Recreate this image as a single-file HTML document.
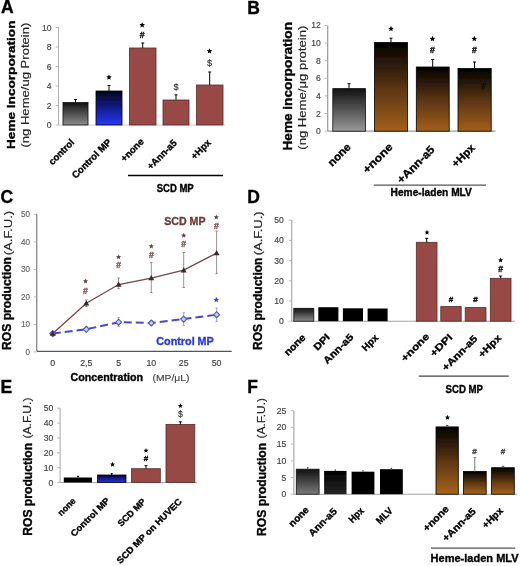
<!DOCTYPE html>
<html><head><meta charset="utf-8"><style>html,body{margin:0;padding:0;background:#fff;}svg{display:block;will-change:transform;}</style></head>
<body><svg width="520" height="566" viewBox="0 0 520 566" font-family='"Liberation Sans", sans-serif'>
<defs><linearGradient id="g1" x1="0" y1="0" x2="0" y2="1"><stop offset="0" stop-color="#141414"/><stop offset="1" stop-color="#8c8c8c"/></linearGradient><linearGradient id="g2" x1="0" y1="0" x2="0" y2="1"><stop offset="0" stop-color="#02041c"/><stop offset="0.5" stop-color="#121c8c"/><stop offset="1" stop-color="#2638f6"/></linearGradient><linearGradient id="g3" x1="0" y1="0" x2="0" y2="1"><stop offset="0" stop-color="#111111"/><stop offset="1" stop-color="#999999"/></linearGradient><linearGradient id="g4" x1="0" y1="0" x2="0" y2="1"><stop offset="0" stop-color="#000000"/><stop offset="0.5" stop-color="#583412"/><stop offset="1" stop-color="#a45f1c"/></linearGradient><linearGradient id="g5" x1="0" y1="0" x2="0" y2="1"><stop offset="0" stop-color="#111111"/><stop offset="1" stop-color="#8a8a8a"/></linearGradient><linearGradient id="g6" x1="0" y1="0" x2="0" y2="1"><stop offset="0" stop-color="#05082e"/><stop offset="1" stop-color="#2434f2"/></linearGradient><linearGradient id="g7" x1="0" y1="0" x2="0" y2="1"><stop offset="0" stop-color="#111111"/><stop offset="1" stop-color="#7a7a7a"/></linearGradient><linearGradient id="g8" x1="0" y1="0" x2="0" y2="1"><stop offset="0" stop-color="#000000"/><stop offset="1" stop-color="#262626"/></linearGradient><linearGradient id="g9" x1="0" y1="0" x2="0" y2="1"><stop offset="0" stop-color="#000000"/><stop offset="0.5" stop-color="#5a3612"/><stop offset="1" stop-color="#a8641a"/></linearGradient><filter id="blur" x="-5%" y="-5%" width="110%" height="110%"><feGaussianBlur stdDeviation="0.35"/></filter></defs>
<rect width="520" height="566" fill="#fff"/>
<g filter="url(#blur)">
<text x="1.00" y="13.40" font-size="17.5" font-weight="bold" fill="#000" text-anchor="start" stroke="#000" stroke-width="0.35">A</text>
<line x1="58.50" y1="27.00" x2="58.50" y2="125.00" stroke="#b0b0b0" stroke-width="1"/>
<line x1="58.50" y1="125.00" x2="225.00" y2="125.00" stroke="#cccccc" stroke-width="1"/>
<text x="51.50" y="128.01" font-size="8.6" font-weight="normal" fill="#404040" text-anchor="end" stroke="#404040" stroke-width="0.15">0</text>
<line x1="55.50" y1="125.00" x2="58.50" y2="125.00" stroke="#aaa" stroke-width="0.8"/>
<text x="51.50" y="108.51" font-size="8.6" font-weight="normal" fill="#404040" text-anchor="end" stroke="#404040" stroke-width="0.15">2</text>
<line x1="55.50" y1="105.50" x2="58.50" y2="105.50" stroke="#aaa" stroke-width="0.8"/>
<text x="51.50" y="89.01" font-size="8.6" font-weight="normal" fill="#404040" text-anchor="end" stroke="#404040" stroke-width="0.15">4</text>
<line x1="55.50" y1="86.00" x2="58.50" y2="86.00" stroke="#aaa" stroke-width="0.8"/>
<text x="51.50" y="69.51" font-size="8.6" font-weight="normal" fill="#404040" text-anchor="end" stroke="#404040" stroke-width="0.15">6</text>
<line x1="55.50" y1="66.50" x2="58.50" y2="66.50" stroke="#aaa" stroke-width="0.8"/>
<text x="51.50" y="50.01" font-size="8.6" font-weight="normal" fill="#404040" text-anchor="end" stroke="#404040" stroke-width="0.15">8</text>
<line x1="55.50" y1="47.00" x2="58.50" y2="47.00" stroke="#aaa" stroke-width="0.8"/>
<text x="51.50" y="30.51" font-size="8.6" font-weight="normal" fill="#404040" text-anchor="end" stroke="#404040" stroke-width="0.15">10</text>
<line x1="55.50" y1="27.50" x2="58.50" y2="27.50" stroke="#aaa" stroke-width="0.8"/>
<rect x="63.00" y="102.50" width="25.00" height="22.50" fill="url(#g1)" stroke="#111" stroke-width="0.8"/>
<rect x="96.00" y="91.00" width="26.00" height="34.00" fill="url(#g2)" stroke="#000" stroke-width="0.8"/>
<rect x="129.50" y="48.00" width="26.50" height="77.00" fill="#974a45" stroke="#5a2a28" stroke-width="0.8"/>
<rect x="163.00" y="100.00" width="26.00" height="25.00" fill="#974a45" stroke="#5a2a28" stroke-width="0.8"/>
<rect x="196.50" y="85.00" width="26.50" height="40.00" fill="#974a45" stroke="#5a2a28" stroke-width="0.8"/>
<line x1="75.50" y1="99.50" x2="75.50" y2="102.50" stroke="#000" stroke-width="1"/>
<line x1="74.00" y1="99.50" x2="77.00" y2="99.50" stroke="#000" stroke-width="1"/>
<line x1="109.00" y1="85.50" x2="109.00" y2="91.00" stroke="#000" stroke-width="1"/>
<line x1="107.50" y1="85.50" x2="110.50" y2="85.50" stroke="#000" stroke-width="1"/>
<line x1="142.70" y1="43.00" x2="142.70" y2="48.00" stroke="#000" stroke-width="1"/>
<line x1="141.20" y1="43.00" x2="144.20" y2="43.00" stroke="#000" stroke-width="1"/>
<line x1="176.00" y1="94.80" x2="176.00" y2="100.00" stroke="#000" stroke-width="1"/>
<line x1="174.50" y1="94.80" x2="177.50" y2="94.80" stroke="#000" stroke-width="1"/>
<line x1="209.70" y1="72.00" x2="209.70" y2="85.00" stroke="#000" stroke-width="1"/>
<line x1="208.20" y1="72.00" x2="211.20" y2="72.00" stroke="#000" stroke-width="1"/>
<polygon points="109.00,74.31 109.79,76.21 111.84,76.38 110.28,77.72 110.76,79.72 109.00,78.65 107.24,79.72 107.72,77.72 106.16,76.38 108.21,76.21" fill="#000"/>
<polygon points="142.20,22.21 142.99,24.11 145.04,24.28 143.48,25.62 143.96,27.62 142.20,26.55 140.44,27.62 140.92,25.62 139.36,24.28 141.41,24.11" fill="#000"/>
<text x="142.20" y="38.10" font-size="8.625" font-weight="bold" fill="#000" text-anchor="middle" stroke="#000" stroke-width="0.35">#</text>
<text x="176.00" y="90.31" font-size="9.2" font-weight="normal" fill="#333" text-anchor="middle" stroke="#333" stroke-width="0.15">$</text>
<polygon points="209.50,48.21 210.29,50.11 212.34,50.28 210.78,51.62 211.26,53.62 209.50,52.55 207.74,53.62 208.22,51.62 206.66,50.28 208.71,50.11" fill="#000"/>
<text x="209.50" y="65.61" font-size="9.2" font-weight="normal" fill="#333" text-anchor="middle" stroke="#333" stroke-width="0.15">$</text>
<text x="15.00" y="149.00" font-size="11.7" font-weight="bold" fill="#000" text-anchor="start" transform="rotate(-90 15.00 149.00)" textLength="128.50" lengthAdjust="spacingAndGlyphs" stroke="#000" stroke-width="0.35">Heme Incorporation</text>
<text x="28.80" y="147.60" font-size="11.3" font-weight="normal" fill="#222" text-anchor="start" transform="rotate(-90 28.80 147.60)" textLength="125.00" lengthAdjust="spacingAndGlyphs" stroke="#222" stroke-width="0.15">(ng Heme/ug Protein)</text>
<text x="74.88" y="143.01" font-size="9.6" font-weight="bold" fill="#000" text-anchor="end" transform="rotate(-45 74.88 143.01)" textLength="31.64" lengthAdjust="spacingAndGlyphs" stroke="#000" stroke-width="0.35">control</text>
<text x="111.98" y="142.83" font-size="9.6" font-weight="bold" fill="#000" text-anchor="end" transform="rotate(-45 111.98 142.83)" textLength="51.32" lengthAdjust="spacingAndGlyphs" stroke="#000" stroke-width="0.35">Control MP</text>
<text x="144.47" y="142.32" font-size="9.6" font-weight="bold" fill="#000" text-anchor="end" transform="rotate(-45 144.47 142.32)" textLength="28.27" lengthAdjust="spacingAndGlyphs" stroke="#000" stroke-width="0.35">+none</text>
<text x="177.41" y="143.66" font-size="9.6" font-weight="bold" fill="#000" text-anchor="end" transform="rotate(-45 177.41 143.66)" textLength="37.42" lengthAdjust="spacingAndGlyphs" stroke="#000" stroke-width="0.35">+Ann-a5</text>
<text x="211.54" y="143.22" font-size="9.6" font-weight="bold" fill="#000" text-anchor="end" transform="rotate(-45 211.54 143.22)" textLength="23.56" lengthAdjust="spacingAndGlyphs" stroke="#000" stroke-width="0.35">+Hpx</text>
<line x1="128.00" y1="175.50" x2="223.00" y2="175.50" stroke="#000" stroke-width="1.5"/>
<text x="156.70" y="192.20" font-size="10" font-weight="bold" fill="#000" text-anchor="start" textLength="37.00" lengthAdjust="spacingAndGlyphs" stroke="#000" stroke-width="0.35">SCD MP</text>
<text x="247.30" y="13.80" font-size="17.5" font-weight="bold" fill="#000" text-anchor="start" stroke="#000" stroke-width="0.35">B</text>
<line x1="327.70" y1="25.50" x2="327.70" y2="131.20" stroke="#9a9a9a" stroke-width="1.2"/>
<line x1="327.70" y1="131.20" x2="495.50" y2="131.20" stroke="#9a9a9a" stroke-width="1.2"/>
<text x="320.90" y="134.21" font-size="8.6" font-weight="normal" fill="#404040" text-anchor="end" stroke="#404040" stroke-width="0.15">0</text>
<line x1="324.70" y1="131.20" x2="327.70" y2="131.20" stroke="#aaa" stroke-width="0.8"/>
<text x="320.90" y="116.59" font-size="8.6" font-weight="normal" fill="#404040" text-anchor="end" stroke="#404040" stroke-width="0.15">2</text>
<line x1="324.70" y1="113.58" x2="327.70" y2="113.58" stroke="#aaa" stroke-width="0.8"/>
<text x="320.90" y="98.97" font-size="8.6" font-weight="normal" fill="#404040" text-anchor="end" stroke="#404040" stroke-width="0.15">4</text>
<line x1="324.70" y1="95.96" x2="327.70" y2="95.96" stroke="#aaa" stroke-width="0.8"/>
<text x="320.90" y="81.35" font-size="8.6" font-weight="normal" fill="#404040" text-anchor="end" stroke="#404040" stroke-width="0.15">6</text>
<line x1="324.70" y1="78.34" x2="327.70" y2="78.34" stroke="#aaa" stroke-width="0.8"/>
<text x="320.90" y="63.73" font-size="8.6" font-weight="normal" fill="#404040" text-anchor="end" stroke="#404040" stroke-width="0.15">8</text>
<line x1="324.70" y1="60.72" x2="327.70" y2="60.72" stroke="#aaa" stroke-width="0.8"/>
<text x="320.90" y="46.11" font-size="8.6" font-weight="normal" fill="#404040" text-anchor="end" stroke="#404040" stroke-width="0.15">10</text>
<line x1="324.70" y1="43.10" x2="327.70" y2="43.10" stroke="#aaa" stroke-width="0.8"/>
<text x="320.90" y="28.49" font-size="8.6" font-weight="normal" fill="#404040" text-anchor="end" stroke="#404040" stroke-width="0.15">12</text>
<line x1="324.70" y1="25.48" x2="327.70" y2="25.48" stroke="#aaa" stroke-width="0.8"/>
<rect x="332.80" y="88.60" width="32.70" height="42.60" fill="url(#g3)" stroke="#111" stroke-width="0.8"/>
<rect x="374.50" y="42.50" width="33.00" height="88.70" fill="url(#g4)" stroke="#000" stroke-width="0.8"/>
<rect x="416.30" y="67.00" width="32.90" height="64.20" fill="url(#g4)" stroke="#000" stroke-width="0.8"/>
<rect x="458.00" y="68.50" width="33.20" height="62.70" fill="url(#g4)" stroke="#000" stroke-width="0.8"/>
<line x1="349.00" y1="83.70" x2="349.00" y2="88.60" stroke="#000" stroke-width="1"/>
<line x1="347.50" y1="83.70" x2="350.50" y2="83.70" stroke="#000" stroke-width="1"/>
<line x1="391.00" y1="38.20" x2="391.00" y2="42.50" stroke="#000" stroke-width="1"/>
<line x1="389.50" y1="38.20" x2="392.50" y2="38.20" stroke="#000" stroke-width="1"/>
<line x1="432.70" y1="59.50" x2="432.70" y2="67.00" stroke="#000" stroke-width="1"/>
<line x1="431.20" y1="59.50" x2="434.20" y2="59.50" stroke="#000" stroke-width="1"/>
<line x1="474.50" y1="62.00" x2="474.50" y2="68.50" stroke="#000" stroke-width="1"/>
<line x1="473.00" y1="62.00" x2="476.00" y2="62.00" stroke="#000" stroke-width="1"/>
<polygon points="391.00,25.81 391.79,27.71 393.84,27.88 392.28,29.22 392.76,31.22 391.00,30.15 389.24,31.22 389.72,29.22 388.16,27.88 390.21,27.71" fill="#000"/>
<polygon points="432.50,35.81 433.29,37.71 435.34,37.88 433.78,39.22 434.26,41.22 432.50,40.15 430.74,41.22 431.22,39.22 429.66,37.88 431.71,37.71" fill="#000"/>
<text x="432.50" y="53.10" font-size="8.625" font-weight="bold" fill="#000" text-anchor="middle" stroke="#000" stroke-width="0.35">#</text>
<polygon points="474.30,35.81 475.09,37.71 477.14,37.88 475.58,39.22 476.06,41.22 474.30,40.15 472.54,41.22 473.02,39.22 471.46,37.88 473.51,37.71" fill="#000"/>
<text x="474.30" y="53.10" font-size="8.625" font-weight="bold" fill="#000" text-anchor="middle" stroke="#000" stroke-width="0.35">#</text>
<text x="483.80" y="89.11" font-size="9.2" font-weight="bold" fill="#1a1006" text-anchor="middle" stroke="#1a1006" stroke-width="0.35">#</text>
<text x="292.40" y="150.50" font-size="12" font-weight="bold" fill="#000" text-anchor="start" transform="rotate(-90 292.40 150.50)" textLength="128.50" lengthAdjust="spacingAndGlyphs" stroke="#000" stroke-width="0.35">Heme incorporation</text>
<text x="306.20" y="149.70" font-size="11.2" font-weight="normal" fill="#222" text-anchor="start" transform="rotate(-90 306.20 149.70)" textLength="124.00" lengthAdjust="spacingAndGlyphs" stroke="#222" stroke-width="0.15">(ng Heme/μg protein)</text>
<text x="351.47" y="147.71" font-size="11.0" font-weight="bold" fill="#000" text-anchor="end" transform="rotate(-45 351.47 147.71)" textLength="27.12" lengthAdjust="spacingAndGlyphs" stroke="#000" stroke-width="0.35">none</text>
<text x="393.46" y="147.71" font-size="11.0" font-weight="bold" fill="#000" text-anchor="end" transform="rotate(-45 393.46 147.71)" textLength="37.11" lengthAdjust="spacingAndGlyphs" stroke="#000" stroke-width="0.35">+none</text>
<text x="435.37" y="150.28" font-size="11.0" font-weight="bold" fill="#000" text-anchor="end" transform="rotate(-45 435.37 150.28)" textLength="47.75" lengthAdjust="spacingAndGlyphs" stroke="#000" stroke-width="0.35">+Ann-a5</text>
<text x="475.59" y="148.62" font-size="11.0" font-weight="bold" fill="#000" text-anchor="end" transform="rotate(-45 475.59 148.62)" textLength="27.57" lengthAdjust="spacingAndGlyphs" stroke="#000" stroke-width="0.35">+Hpx</text>
<line x1="373.80" y1="185.10" x2="486.00" y2="185.10" stroke="#555" stroke-width="1.2"/>
<text x="390.60" y="196.20" font-size="10" font-weight="bold" fill="#000" text-anchor="start" textLength="81.30" lengthAdjust="spacingAndGlyphs" stroke="#000" stroke-width="0.35">Heme-laden MLV</text>
<text x="0.60" y="202.90" font-size="17.5" font-weight="bold" fill="#000" text-anchor="start" stroke="#000" stroke-width="0.35">C</text>
<line x1="36.75" y1="213.75" x2="36.75" y2="351.30" stroke="#707070" stroke-width="1.1"/>
<line x1="36.75" y1="351.30" x2="231.75" y2="351.30" stroke="#555" stroke-width="1.2"/>
<text x="30.10" y="354.77" font-size="8.2" font-weight="normal" fill="#666" text-anchor="end" stroke="#666" stroke-width="0.15">0</text>
<line x1="33.75" y1="351.90" x2="36.75" y2="351.90" stroke="#aaa" stroke-width="0.8"/>
<text x="30.10" y="327.27" font-size="8.2" font-weight="normal" fill="#666" text-anchor="end" stroke="#666" stroke-width="0.15">10</text>
<line x1="33.75" y1="324.40" x2="36.75" y2="324.40" stroke="#aaa" stroke-width="0.8"/>
<text x="30.10" y="299.77" font-size="8.2" font-weight="normal" fill="#666" text-anchor="end" stroke="#666" stroke-width="0.15">20</text>
<line x1="33.75" y1="296.90" x2="36.75" y2="296.90" stroke="#aaa" stroke-width="0.8"/>
<text x="30.10" y="272.27" font-size="8.2" font-weight="normal" fill="#666" text-anchor="end" stroke="#666" stroke-width="0.15">30</text>
<line x1="33.75" y1="269.40" x2="36.75" y2="269.40" stroke="#aaa" stroke-width="0.8"/>
<text x="30.10" y="244.77" font-size="8.2" font-weight="normal" fill="#666" text-anchor="end" stroke="#666" stroke-width="0.15">40</text>
<line x1="33.75" y1="241.90" x2="36.75" y2="241.90" stroke="#aaa" stroke-width="0.8"/>
<text x="30.10" y="217.27" font-size="8.2" font-weight="normal" fill="#666" text-anchor="end" stroke="#666" stroke-width="0.15">50</text>
<line x1="33.75" y1="214.40" x2="36.75" y2="214.40" stroke="#aaa" stroke-width="0.8"/>
<text x="52.80" y="366.30" font-size="8.8" font-weight="normal" fill="#3a3a3a" text-anchor="middle" stroke="#3a3a3a" stroke-width="0.15">0</text>
<text x="86.30" y="366.30" font-size="8.8" font-weight="normal" fill="#3a3a3a" text-anchor="middle" stroke="#3a3a3a" stroke-width="0.15">2,5</text>
<text x="118.60" y="366.30" font-size="8.8" font-weight="normal" fill="#3a3a3a" text-anchor="middle" stroke="#3a3a3a" stroke-width="0.15">5</text>
<text x="151.30" y="366.30" font-size="8.8" font-weight="normal" fill="#3a3a3a" text-anchor="middle" stroke="#3a3a3a" stroke-width="0.15">10</text>
<text x="183.70" y="366.30" font-size="8.8" font-weight="normal" fill="#3a3a3a" text-anchor="middle" stroke="#3a3a3a" stroke-width="0.15">25</text>
<text x="216.60" y="366.30" font-size="8.8" font-weight="normal" fill="#3a3a3a" text-anchor="middle" stroke="#3a3a3a" stroke-width="0.15">50</text>
<line x1="86.30" y1="300.00" x2="86.30" y2="306.50" stroke="#777" stroke-width="0.8"/>
<line x1="85.05" y1="300.00" x2="87.55" y2="300.00" stroke="#777" stroke-width="0.8"/>
<line x1="85.05" y1="306.50" x2="87.55" y2="306.50" stroke="#777" stroke-width="0.8"/>
<line x1="118.60" y1="278.00" x2="118.60" y2="288.70" stroke="#777" stroke-width="0.8"/>
<line x1="117.35" y1="278.00" x2="119.85" y2="278.00" stroke="#777" stroke-width="0.8"/>
<line x1="117.35" y1="288.70" x2="119.85" y2="288.70" stroke="#777" stroke-width="0.8"/>
<line x1="151.30" y1="262.50" x2="151.30" y2="292.50" stroke="#777" stroke-width="0.8"/>
<line x1="150.05" y1="262.50" x2="152.55" y2="262.50" stroke="#777" stroke-width="0.8"/>
<line x1="150.05" y1="292.50" x2="152.55" y2="292.50" stroke="#777" stroke-width="0.8"/>
<line x1="183.70" y1="252.50" x2="183.70" y2="287.50" stroke="#777" stroke-width="0.8"/>
<line x1="182.45" y1="252.50" x2="184.95" y2="252.50" stroke="#777" stroke-width="0.8"/>
<line x1="182.45" y1="287.50" x2="184.95" y2="287.50" stroke="#777" stroke-width="0.8"/>
<line x1="216.60" y1="231.20" x2="216.60" y2="273.70" stroke="#777" stroke-width="0.8"/>
<line x1="215.35" y1="231.20" x2="217.85" y2="231.20" stroke="#777" stroke-width="0.8"/>
<line x1="215.35" y1="273.70" x2="217.85" y2="273.70" stroke="#777" stroke-width="0.8"/>
<line x1="86.30" y1="326.50" x2="86.30" y2="332.00" stroke="#8890cc" stroke-width="0.8"/>
<line x1="85.05" y1="326.50" x2="87.55" y2="326.50" stroke="#8890cc" stroke-width="0.8"/>
<line x1="85.05" y1="332.00" x2="87.55" y2="332.00" stroke="#8890cc" stroke-width="0.8"/>
<line x1="118.60" y1="317.50" x2="118.60" y2="326.50" stroke="#8890cc" stroke-width="0.8"/>
<line x1="117.35" y1="317.50" x2="119.85" y2="317.50" stroke="#8890cc" stroke-width="0.8"/>
<line x1="117.35" y1="326.50" x2="119.85" y2="326.50" stroke="#8890cc" stroke-width="0.8"/>
<line x1="151.30" y1="320.50" x2="151.30" y2="325.50" stroke="#8890cc" stroke-width="0.8"/>
<line x1="150.05" y1="320.50" x2="152.55" y2="320.50" stroke="#8890cc" stroke-width="0.8"/>
<line x1="150.05" y1="325.50" x2="152.55" y2="325.50" stroke="#8890cc" stroke-width="0.8"/>
<line x1="183.70" y1="312.80" x2="183.70" y2="325.40" stroke="#8890cc" stroke-width="0.8"/>
<line x1="182.45" y1="312.80" x2="184.95" y2="312.80" stroke="#8890cc" stroke-width="0.8"/>
<line x1="182.45" y1="325.40" x2="184.95" y2="325.40" stroke="#8890cc" stroke-width="0.8"/>
<line x1="216.60" y1="308.10" x2="216.60" y2="321.40" stroke="#8890cc" stroke-width="0.8"/>
<line x1="215.35" y1="308.10" x2="217.85" y2="308.10" stroke="#8890cc" stroke-width="0.8"/>
<line x1="215.35" y1="321.40" x2="217.85" y2="321.40" stroke="#8890cc" stroke-width="0.8"/>
<polyline points="52.8,333.6 86.3,329.3 118.6,322.2 151.3,323.0 183.7,319.1 216.6,314.7" fill="none" stroke="#4848d0" stroke-width="2" stroke-dasharray="8,4"/>
<polyline points="52.8,333.6 86.3,303.2 118.6,284.5 151.3,278.1 183.7,270.2 216.6,253.1" fill="none" stroke="#7a4545" stroke-width="1.3"/>
<polygon points="52.8,330.6 55.8,333.6 52.8,336.6 49.8,333.6" fill="#c8cef0" stroke="#4858b8" stroke-width="1.1"/>
<polygon points="86.3,326.3 89.3,329.3 86.3,332.3 83.3,329.3" fill="#c8cef0" stroke="#4858b8" stroke-width="1.1"/>
<polygon points="118.6,319.2 121.6,322.2 118.6,325.2 115.6,322.2" fill="#c8cef0" stroke="#4858b8" stroke-width="1.1"/>
<polygon points="151.3,320.0 154.3,323.0 151.3,326.0 148.3,323.0" fill="#c8cef0" stroke="#4858b8" stroke-width="1.1"/>
<polygon points="183.7,316.1 186.7,319.1 183.7,322.1 180.7,319.1" fill="#c8cef0" stroke="#4858b8" stroke-width="1.1"/>
<polygon points="216.6,311.7 219.6,314.7 216.6,317.7 213.6,314.7" fill="#c8cef0" stroke="#4858b8" stroke-width="1.1"/>
<polygon points="52.8,330.6 49.8,335.8 55.8,335.8" fill="#3a2a2a"/>
<polygon points="86.3,300.2 83.3,305.4 89.3,305.4" fill="#3a2a2a"/>
<polygon points="118.6,281.5 115.6,286.7 121.6,286.7" fill="#3a2a2a"/>
<polygon points="151.3,275.1 148.3,280.3 154.3,280.3" fill="#3a2a2a"/>
<polygon points="183.7,267.2 180.7,272.4 186.7,272.4" fill="#3a2a2a"/>
<polygon points="216.6,250.1 213.6,255.3 219.6,255.3" fill="#3a2a2a"/>
<polygon points="85.50,278.44 86.23,280.20 88.12,280.35 86.68,281.58 87.12,283.43 85.50,282.44 83.88,283.43 84.32,281.58 82.88,280.35 84.77,280.20" fill="#6b4040"/>
<text x="85.50" y="294.11" font-size="8.625" font-weight="bold" fill="#7a5050" text-anchor="middle" stroke="#7a5050" stroke-width="0.35">#</text>
<polygon points="118.60,254.24 119.33,256.00 121.22,256.15 119.78,257.38 120.22,259.23 118.60,258.24 116.98,259.23 117.42,257.38 115.98,256.15 117.87,256.00" fill="#6b4040"/>
<text x="118.60" y="268.11" font-size="8.625" font-weight="bold" fill="#7a5050" text-anchor="middle" stroke="#7a5050" stroke-width="0.35">#</text>
<polygon points="151.30,243.54 152.03,245.30 153.92,245.45 152.48,246.68 152.92,248.53 151.30,247.54 149.68,248.53 150.12,246.68 148.68,245.45 150.57,245.30" fill="#6b4040"/>
<text x="151.30" y="258.11" font-size="8.625" font-weight="bold" fill="#7a5050" text-anchor="middle" stroke="#7a5050" stroke-width="0.35">#</text>
<polygon points="183.70,232.74 184.43,234.50 186.32,234.65 184.88,235.88 185.32,237.73 183.70,236.74 182.08,237.73 182.52,235.88 181.08,234.65 182.97,234.50" fill="#6b4040"/>
<text x="183.70" y="246.91" font-size="8.625" font-weight="bold" fill="#7a5050" text-anchor="middle" stroke="#7a5050" stroke-width="0.35">#</text>
<polygon points="216.30,214.44 217.03,216.20 218.92,216.35 217.48,217.58 217.92,219.43 216.30,218.44 214.68,219.43 215.12,217.58 213.68,216.35 215.57,216.20" fill="#6b4040"/>
<text x="216.30" y="228.50" font-size="8.625" font-weight="bold" fill="#7a5050" text-anchor="middle" stroke="#7a5050" stroke-width="0.35">#</text>
<polygon points="216.30,296.81 217.09,298.71 219.14,298.88 217.58,300.22 218.06,302.22 216.30,301.15 214.54,302.22 215.02,300.22 213.46,298.88 215.51,298.71" fill="#3344dd"/>
<text x="164.30" y="224.60" font-size="10.6" font-weight="bold" fill="#703a3a" text-anchor="start" textLength="41.20" lengthAdjust="spacingAndGlyphs" stroke="#703a3a" stroke-width="0.35">SCD MP</text>
<text x="156.30" y="344.60" font-size="10.8" font-weight="bold" fill="#2a3ad8" text-anchor="start" textLength="57.50" lengthAdjust="spacingAndGlyphs" stroke="#2a3ad8" stroke-width="0.35">Control MP</text>
<text x="70.50" y="381.20" font-size="10" font-weight="bold" fill="#000" text-anchor="start" textLength="72.50" lengthAdjust="spacingAndGlyphs" stroke="#000" stroke-width="0.35">Concentration</text>
<text x="152.50" y="381.20" font-size="9.5" font-weight="normal" fill="#444" text-anchor="start" textLength="37.00" lengthAdjust="spacingAndGlyphs" stroke="#444" stroke-width="0.15">(MP/μL)</text>
<text x="11.20" y="350.00" font-size="12.4" font-weight="bold" fill="#000" text-anchor="start" transform="rotate(-90 11.20 350.00)" textLength="93.00" lengthAdjust="spacingAndGlyphs" stroke="#000" stroke-width="0.35">ROS production</text>
<text x="12.00" y="255.30" font-size="10.4" font-weight="normal" fill="#222" text-anchor="start" transform="rotate(-90 12.00 255.30)" textLength="44.50" lengthAdjust="spacingAndGlyphs" stroke="#222" stroke-width="0.15">(A.F.U.)</text>
<text x="247.30" y="202.60" font-size="17.5" font-weight="bold" fill="#000" text-anchor="start" stroke="#000" stroke-width="0.35">D</text>
<line x1="291.75" y1="220.00" x2="291.75" y2="321.20" stroke="#a0a0a0" stroke-width="1.1"/>
<line x1="291.75" y1="321.20" x2="515.00" y2="321.20" stroke="#a0a0a0" stroke-width="1.1"/>
<text x="283.80" y="324.21" font-size="8.6" font-weight="normal" fill="#404040" text-anchor="end" stroke="#404040" stroke-width="0.15">0</text>
<line x1="288.75" y1="321.20" x2="291.75" y2="321.20" stroke="#aaa" stroke-width="0.8"/>
<text x="283.80" y="304.01" font-size="8.6" font-weight="normal" fill="#404040" text-anchor="end" stroke="#404040" stroke-width="0.15">10</text>
<line x1="288.75" y1="301.00" x2="291.75" y2="301.00" stroke="#aaa" stroke-width="0.8"/>
<text x="283.80" y="283.81" font-size="8.6" font-weight="normal" fill="#404040" text-anchor="end" stroke="#404040" stroke-width="0.15">20</text>
<line x1="288.75" y1="280.80" x2="291.75" y2="280.80" stroke="#aaa" stroke-width="0.8"/>
<text x="283.80" y="263.61" font-size="8.6" font-weight="normal" fill="#404040" text-anchor="end" stroke="#404040" stroke-width="0.15">30</text>
<line x1="288.75" y1="260.60" x2="291.75" y2="260.60" stroke="#aaa" stroke-width="0.8"/>
<text x="283.80" y="243.41" font-size="8.6" font-weight="normal" fill="#404040" text-anchor="end" stroke="#404040" stroke-width="0.15">40</text>
<line x1="288.75" y1="240.40" x2="291.75" y2="240.40" stroke="#aaa" stroke-width="0.8"/>
<text x="283.80" y="223.21" font-size="8.6" font-weight="normal" fill="#404040" text-anchor="end" stroke="#404040" stroke-width="0.15">50</text>
<line x1="288.75" y1="220.20" x2="291.75" y2="220.20" stroke="#aaa" stroke-width="0.8"/>
<rect x="293.80" y="308.30" width="20.00" height="12.90" fill="url(#g5)" stroke="#111" stroke-width="0.8"/>
<rect x="318.30" y="307.20" width="20.10" height="14.00" fill="#000"/>
<rect x="342.90" y="308.30" width="20.10" height="12.90" fill="#000"/>
<rect x="367.60" y="308.50" width="20.00" height="12.70" fill="#000"/>
<rect x="416.30" y="242.30" width="20.70" height="78.90" fill="#974a45" stroke="#5a2a28" stroke-width="0.8"/>
<rect x="440.80" y="306.60" width="20.40" height="14.60" fill="#974a45" stroke="#5a2a28" stroke-width="0.8"/>
<rect x="465.20" y="307.60" width="20.80" height="13.60" fill="#974a45" stroke="#5a2a28" stroke-width="0.8"/>
<rect x="490.30" y="278.30" width="20.70" height="42.90" fill="#974a45" stroke="#5a2a28" stroke-width="0.8"/>
<line x1="426.70" y1="238.30" x2="426.70" y2="242.30" stroke="#000" stroke-width="1"/>
<line x1="425.20" y1="238.30" x2="428.20" y2="238.30" stroke="#000" stroke-width="1"/>
<line x1="500.60" y1="276.00" x2="500.60" y2="278.30" stroke="#000" stroke-width="1"/>
<line x1="499.10" y1="276.00" x2="502.10" y2="276.00" stroke="#000" stroke-width="1"/>
<polygon points="427.00,229.85 427.70,231.54 429.52,231.68 428.13,232.87 428.55,234.64 427.00,233.69 425.45,234.64 425.87,232.87 424.48,231.68 426.30,231.54" fill="#000"/>
<text x="451.00" y="301.70" font-size="8.049999999999999" font-weight="bold" fill="#000" text-anchor="middle" stroke="#000" stroke-width="0.35">#</text>
<text x="475.60" y="301.70" font-size="8.049999999999999" font-weight="bold" fill="#000" text-anchor="middle" stroke="#000" stroke-width="0.35">#</text>
<polygon points="500.60,257.56 501.30,259.24 503.12,259.38 501.73,260.57 502.15,262.34 500.60,261.39 499.05,262.34 499.47,260.57 498.08,259.38 499.90,259.24" fill="#000"/>
<text x="500.60" y="271.81" font-size="8.625" font-weight="bold" fill="#000" text-anchor="middle" stroke="#000" stroke-width="0.35">#</text>
<text x="261.90" y="350.00" font-size="12.4" font-weight="bold" fill="#000" text-anchor="start" transform="rotate(-90 261.90 350.00)" textLength="92.50" lengthAdjust="spacingAndGlyphs" stroke="#000" stroke-width="0.35">ROS production</text>
<text x="262.20" y="255.30" font-size="10.4" font-weight="normal" fill="#222" text-anchor="start" transform="rotate(-90 262.20 255.30)" textLength="44.00" lengthAdjust="spacingAndGlyphs" stroke="#222" stroke-width="0.15">(A.F.U.)</text>
<text x="306.17" y="338.17" font-size="9.8" font-weight="bold" fill="#000" text-anchor="end" transform="rotate(-45 306.17 338.17)" textLength="25.69" lengthAdjust="spacingAndGlyphs" stroke="#000" stroke-width="0.35">none</text>
<text x="330.54" y="337.94" font-size="9.8" font-weight="bold" fill="#000" text-anchor="end" transform="rotate(-45 330.54 337.94)" textLength="18.46" lengthAdjust="spacingAndGlyphs" stroke="#000" stroke-width="0.35">DPI</text>
<text x="354.07" y="337.69" font-size="9.8" font-weight="bold" fill="#000" text-anchor="end" transform="rotate(-45 354.07 337.69)" textLength="37.80" lengthAdjust="spacingAndGlyphs" stroke="#000" stroke-width="0.35">Ann-a5</text>
<text x="378.98" y="338.35" font-size="9.8" font-weight="bold" fill="#000" text-anchor="end" transform="rotate(-45 378.98 338.35)" textLength="18.80" lengthAdjust="spacingAndGlyphs" stroke="#000" stroke-width="0.35">Hpx</text>
<text x="429.97" y="337.10" font-size="9.8" font-weight="bold" fill="#000" text-anchor="end" transform="rotate(-45 429.97 337.10)" textLength="35.47" lengthAdjust="spacingAndGlyphs" stroke="#000" stroke-width="0.35">+none</text>
<text x="453.08" y="337.94" font-size="9.8" font-weight="bold" fill="#000" text-anchor="end" transform="rotate(-45 453.08 337.94)" textLength="27.14" lengthAdjust="spacingAndGlyphs" stroke="#000" stroke-width="0.35">+DPI</text>
<text x="478.13" y="339.27" font-size="9.8" font-weight="bold" fill="#000" text-anchor="end" transform="rotate(-45 478.13 339.27)" textLength="45.54" lengthAdjust="spacingAndGlyphs" stroke="#000" stroke-width="0.35">+Ann-a5</text>
<text x="501.87" y="338.53" font-size="9.8" font-weight="bold" fill="#000" text-anchor="end" transform="rotate(-45 501.87 338.53)" textLength="27.74" lengthAdjust="spacingAndGlyphs" stroke="#000" stroke-width="0.35">+Hpx</text>
<line x1="418.80" y1="376.20" x2="508.80" y2="376.20" stroke="#444" stroke-width="1.2"/>
<text x="445.50" y="392.60" font-size="10" font-weight="bold" fill="#000" text-anchor="start" textLength="37.50" lengthAdjust="spacingAndGlyphs" stroke="#000" stroke-width="0.35">SCD MP</text>
<text x="0.60" y="392.50" font-size="17.5" font-weight="bold" fill="#000" text-anchor="start" stroke="#000" stroke-width="0.35">E</text>
<line x1="60.10" y1="408.20" x2="60.10" y2="482.50" stroke="#a8a8a8" stroke-width="1"/>
<line x1="60.10" y1="482.50" x2="197.00" y2="482.50" stroke="#a8a8a8" stroke-width="1"/>
<text x="53.20" y="485.51" font-size="8.6" font-weight="normal" fill="#404040" text-anchor="end" stroke="#404040" stroke-width="0.15">0</text>
<line x1="57.10" y1="482.50" x2="60.10" y2="482.50" stroke="#aaa" stroke-width="0.8"/>
<text x="53.20" y="470.66" font-size="8.6" font-weight="normal" fill="#404040" text-anchor="end" stroke="#404040" stroke-width="0.15">10</text>
<line x1="57.10" y1="467.65" x2="60.10" y2="467.65" stroke="#aaa" stroke-width="0.8"/>
<text x="53.20" y="455.81" font-size="8.6" font-weight="normal" fill="#404040" text-anchor="end" stroke="#404040" stroke-width="0.15">20</text>
<line x1="57.10" y1="452.80" x2="60.10" y2="452.80" stroke="#aaa" stroke-width="0.8"/>
<text x="53.20" y="440.96" font-size="8.6" font-weight="normal" fill="#404040" text-anchor="end" stroke="#404040" stroke-width="0.15">30</text>
<line x1="57.10" y1="437.95" x2="60.10" y2="437.95" stroke="#aaa" stroke-width="0.8"/>
<text x="53.20" y="426.11" font-size="8.6" font-weight="normal" fill="#404040" text-anchor="end" stroke="#404040" stroke-width="0.15">40</text>
<line x1="57.10" y1="423.10" x2="60.10" y2="423.10" stroke="#aaa" stroke-width="0.8"/>
<text x="53.20" y="411.26" font-size="8.6" font-weight="normal" fill="#404040" text-anchor="end" stroke="#404040" stroke-width="0.15">50</text>
<line x1="57.10" y1="408.25" x2="60.10" y2="408.25" stroke="#aaa" stroke-width="0.8"/>
<rect x="63.80" y="477.50" width="28.20" height="5.00" fill="#000"/>
<rect x="97.50" y="475.00" width="28.50" height="7.50" fill="url(#g6)" stroke="#000" stroke-width="0.8"/>
<rect x="131.50" y="468.70" width="28.80" height="13.80" fill="#974a45" stroke="#5a2a28" stroke-width="0.8"/>
<rect x="166.00" y="424.50" width="28.80" height="58.00" fill="#974a45" stroke="#5a2a28" stroke-width="0.8"/>
<line x1="78.00" y1="476.30" x2="78.00" y2="477.50" stroke="#000" stroke-width="1"/>
<line x1="77.00" y1="476.30" x2="79.00" y2="476.30" stroke="#000" stroke-width="1"/>
<line x1="111.70" y1="473.60" x2="111.70" y2="475.00" stroke="#000" stroke-width="1"/>
<line x1="110.70" y1="473.60" x2="112.70" y2="473.60" stroke="#000" stroke-width="1"/>
<line x1="146.00" y1="465.70" x2="146.00" y2="468.70" stroke="#000" stroke-width="1"/>
<line x1="144.50" y1="465.70" x2="147.50" y2="465.70" stroke="#000" stroke-width="1"/>
<line x1="180.40" y1="421.80" x2="180.40" y2="424.50" stroke="#000" stroke-width="1"/>
<line x1="178.90" y1="421.80" x2="181.90" y2="421.80" stroke="#000" stroke-width="1"/>
<polygon points="112.50,461.86 113.20,463.54 115.02,463.68 113.63,464.87 114.05,466.64 112.50,465.69 110.95,466.64 111.37,464.87 109.98,463.68 111.80,463.54" fill="#000"/>
<polygon points="146.00,447.96 146.70,449.64 148.52,449.78 147.13,450.97 147.55,452.74 146.00,451.79 144.45,452.74 144.87,450.97 143.48,449.78 145.30,449.64" fill="#000"/>
<text x="146.00" y="460.90" font-size="8.049999999999999" font-weight="bold" fill="#000" text-anchor="middle" stroke="#000" stroke-width="0.35">#</text>
<polygon points="180.40,403.25 181.10,404.94 182.92,405.08 181.53,406.27 181.95,408.04 180.40,407.09 178.85,408.04 179.27,406.27 177.88,405.08 179.70,404.94" fill="#000"/>
<text x="180.40" y="417.00" font-size="8.625" font-weight="normal" fill="#333" text-anchor="middle" stroke="#333" stroke-width="0.15">$</text>
<text x="32.00" y="535.80" font-size="12.4" font-weight="bold" fill="#000" text-anchor="start" transform="rotate(-90 32.00 535.80)" textLength="93.00" lengthAdjust="spacingAndGlyphs" stroke="#000" stroke-width="0.35">ROS production</text>
<text x="31.40" y="438.50" font-size="11" font-weight="normal" fill="#222" text-anchor="start" transform="rotate(-90 31.40 438.50)" textLength="41.00" lengthAdjust="spacingAndGlyphs" stroke="#222" stroke-width="0.15">(A.F.U.)</text>
<text x="76.34" y="501.45" font-size="9.0" font-weight="bold" fill="#000" text-anchor="end" transform="rotate(-45 76.34 501.45)" textLength="21.15" lengthAdjust="spacingAndGlyphs" stroke="#000" stroke-width="0.35">none</text>
<text x="110.37" y="501.13" font-size="9.0" font-weight="bold" fill="#000" text-anchor="end" transform="rotate(-45 110.37 501.13)" textLength="51.10" lengthAdjust="spacingAndGlyphs" stroke="#000" stroke-width="0.35">Control MP</text>
<text x="146.29" y="502.12" font-size="9.0" font-weight="bold" fill="#000" text-anchor="end" transform="rotate(-45 146.29 502.12)" textLength="35.35" lengthAdjust="spacingAndGlyphs" stroke="#000" stroke-width="0.35">SCD MP</text>
<text x="182.44" y="502.12" font-size="9.0" font-weight="bold" fill="#000" text-anchor="end" transform="rotate(-45 182.44 502.12)" textLength="87.77" lengthAdjust="spacingAndGlyphs" stroke="#000" stroke-width="0.35">SCD MP on HUVEC</text>
<text x="247.30" y="392.50" font-size="17.5" font-weight="bold" fill="#000" text-anchor="start" stroke="#000" stroke-width="0.35">F</text>
<line x1="293.90" y1="411.00" x2="293.90" y2="494.20" stroke="#a0a0a0" stroke-width="1.1"/>
<line x1="293.90" y1="494.20" x2="517.00" y2="494.20" stroke="#a0a0a0" stroke-width="1.1"/>
<text x="286.30" y="497.21" font-size="8.6" font-weight="normal" fill="#404040" text-anchor="end" stroke="#404040" stroke-width="0.15">0</text>
<line x1="290.90" y1="494.20" x2="293.90" y2="494.20" stroke="#aaa" stroke-width="0.8"/>
<text x="286.30" y="480.51" font-size="8.6" font-weight="normal" fill="#404040" text-anchor="end" stroke="#404040" stroke-width="0.15">5</text>
<line x1="290.90" y1="477.50" x2="293.90" y2="477.50" stroke="#aaa" stroke-width="0.8"/>
<text x="286.30" y="463.81" font-size="8.6" font-weight="normal" fill="#404040" text-anchor="end" stroke="#404040" stroke-width="0.15">10</text>
<line x1="290.90" y1="460.80" x2="293.90" y2="460.80" stroke="#aaa" stroke-width="0.8"/>
<text x="286.30" y="447.11" font-size="8.6" font-weight="normal" fill="#404040" text-anchor="end" stroke="#404040" stroke-width="0.15">15</text>
<line x1="290.90" y1="444.10" x2="293.90" y2="444.10" stroke="#aaa" stroke-width="0.8"/>
<text x="286.30" y="430.41" font-size="8.6" font-weight="normal" fill="#404040" text-anchor="end" stroke="#404040" stroke-width="0.15">20</text>
<line x1="290.90" y1="427.40" x2="293.90" y2="427.40" stroke="#aaa" stroke-width="0.8"/>
<text x="286.30" y="413.71" font-size="8.6" font-weight="normal" fill="#404040" text-anchor="end" stroke="#404040" stroke-width="0.15">25</text>
<line x1="290.90" y1="410.70" x2="293.90" y2="410.70" stroke="#aaa" stroke-width="0.8"/>
<rect x="296.30" y="469.20" width="22.80" height="25.00" fill="url(#g7)" stroke="#111" stroke-width="0.8"/>
<rect x="324.10" y="470.90" width="22.40" height="23.30" fill="url(#g8)"/>
<rect x="351.60" y="471.70" width="22.80" height="22.50" fill="#000"/>
<rect x="380.00" y="469.20" width="22.80" height="25.00" fill="#000"/>
<rect x="436.00" y="426.90" width="22.30" height="67.30" fill="url(#g9)" stroke="#000" stroke-width="0.8"/>
<rect x="463.40" y="471.40" width="22.80" height="22.80" fill="url(#g9)" stroke="#000" stroke-width="0.8"/>
<rect x="491.60" y="467.70" width="22.70" height="26.50" fill="url(#g9)" stroke="#000" stroke-width="0.8"/>
<line x1="307.70" y1="467.60" x2="307.70" y2="469.20" stroke="#555" stroke-width="1"/>
<line x1="306.95" y1="467.60" x2="308.45" y2="467.60" stroke="#555" stroke-width="1"/>
<line x1="335.30" y1="469.90" x2="335.30" y2="470.90" stroke="#555" stroke-width="1"/>
<line x1="334.55" y1="469.90" x2="336.05" y2="469.90" stroke="#555" stroke-width="1"/>
<line x1="363.00" y1="470.80" x2="363.00" y2="471.70" stroke="#555" stroke-width="1"/>
<line x1="362.25" y1="470.80" x2="363.75" y2="470.80" stroke="#555" stroke-width="1"/>
<line x1="391.40" y1="468.20" x2="391.40" y2="469.20" stroke="#555" stroke-width="1"/>
<line x1="390.65" y1="468.20" x2="392.15" y2="468.20" stroke="#555" stroke-width="1"/>
<line x1="447.20" y1="425.50" x2="447.20" y2="426.90" stroke="#555" stroke-width="1"/>
<line x1="445.95" y1="425.50" x2="448.45" y2="425.50" stroke="#555" stroke-width="1"/>
<line x1="474.80" y1="457.70" x2="474.80" y2="471.40" stroke="#777" stroke-width="1"/>
<line x1="473.55" y1="457.70" x2="476.05" y2="457.70" stroke="#777" stroke-width="1"/>
<line x1="503.00" y1="466.30" x2="503.00" y2="467.70" stroke="#555" stroke-width="1"/>
<line x1="501.75" y1="466.30" x2="504.25" y2="466.30" stroke="#555" stroke-width="1"/>
<polygon points="447.50,414.86 448.20,416.54 450.02,416.68 448.63,417.87 449.05,419.64 447.50,418.69 445.95,419.64 446.37,417.87 444.98,416.68 446.80,416.54" fill="#000"/>
<text x="474.60" y="453.70" font-size="8.049999999999999" font-weight="bold" fill="#444" text-anchor="middle" stroke="#444" stroke-width="0.35">#</text>
<text x="503.00" y="453.70" font-size="8.049999999999999" font-weight="bold" fill="#444" text-anchor="middle" stroke="#444" stroke-width="0.35">#</text>
<text x="265.90" y="535.90" font-size="12.4" font-weight="bold" fill="#000" text-anchor="start" transform="rotate(-90 265.90 535.90)" textLength="93.00" lengthAdjust="spacingAndGlyphs" stroke="#000" stroke-width="0.35">ROS production</text>
<text x="264.80" y="438.50" font-size="11" font-weight="normal" fill="#222" text-anchor="start" transform="rotate(-90 264.80 438.50)" textLength="40.50" lengthAdjust="spacingAndGlyphs" stroke="#222" stroke-width="0.15">(A.F.U.)</text>
<text x="309.50" y="510.49" font-size="9.8" font-weight="bold" fill="#000" text-anchor="end" transform="rotate(-45 309.50 510.49)" textLength="23.89" lengthAdjust="spacingAndGlyphs" stroke="#000" stroke-width="0.35">none</text>
<text x="337.50" y="511.95" font-size="9.8" font-weight="bold" fill="#000" text-anchor="end" transform="rotate(-45 337.50 511.95)" textLength="35.32" lengthAdjust="spacingAndGlyphs" stroke="#000" stroke-width="0.35">Ann-a5</text>
<text x="364.55" y="511.39" font-size="9.8" font-weight="bold" fill="#000" text-anchor="end" transform="rotate(-45 364.55 511.39)" textLength="16.98" lengthAdjust="spacingAndGlyphs" stroke="#000" stroke-width="0.35">Hpx</text>
<text x="393.40" y="511.42" font-size="9.8" font-weight="bold" fill="#000" text-anchor="end" transform="rotate(-45 393.40 511.42)" textLength="18.77" lengthAdjust="spacingAndGlyphs" stroke="#000" stroke-width="0.35">MLV</text>
<text x="449.45" y="509.55" font-size="9.8" font-weight="bold" fill="#000" text-anchor="end" transform="rotate(-45 449.45 509.55)" textLength="31.72" lengthAdjust="spacingAndGlyphs" stroke="#000" stroke-width="0.35">+none</text>
<text x="476.47" y="511.93" font-size="9.8" font-weight="bold" fill="#000" text-anchor="end" transform="rotate(-45 476.47 511.93)" textLength="42.61" lengthAdjust="spacingAndGlyphs" stroke="#000" stroke-width="0.35">+Ann-a5</text>
<text x="503.59" y="511.42" font-size="9.8" font-weight="bold" fill="#000" text-anchor="end" transform="rotate(-45 503.59 511.42)" textLength="24.75" lengthAdjust="spacingAndGlyphs" stroke="#000" stroke-width="0.35">+Hpx</text>
<line x1="431.00" y1="548.20" x2="515.20" y2="548.20" stroke="#555" stroke-width="1.2"/>
<text x="430.60" y="561.90" font-size="10.8" font-weight="bold" fill="#000" text-anchor="start" textLength="88.00" lengthAdjust="spacingAndGlyphs" stroke="#000" stroke-width="0.35">Heme-laden MLV</text>
</g>
</svg></body></html>
